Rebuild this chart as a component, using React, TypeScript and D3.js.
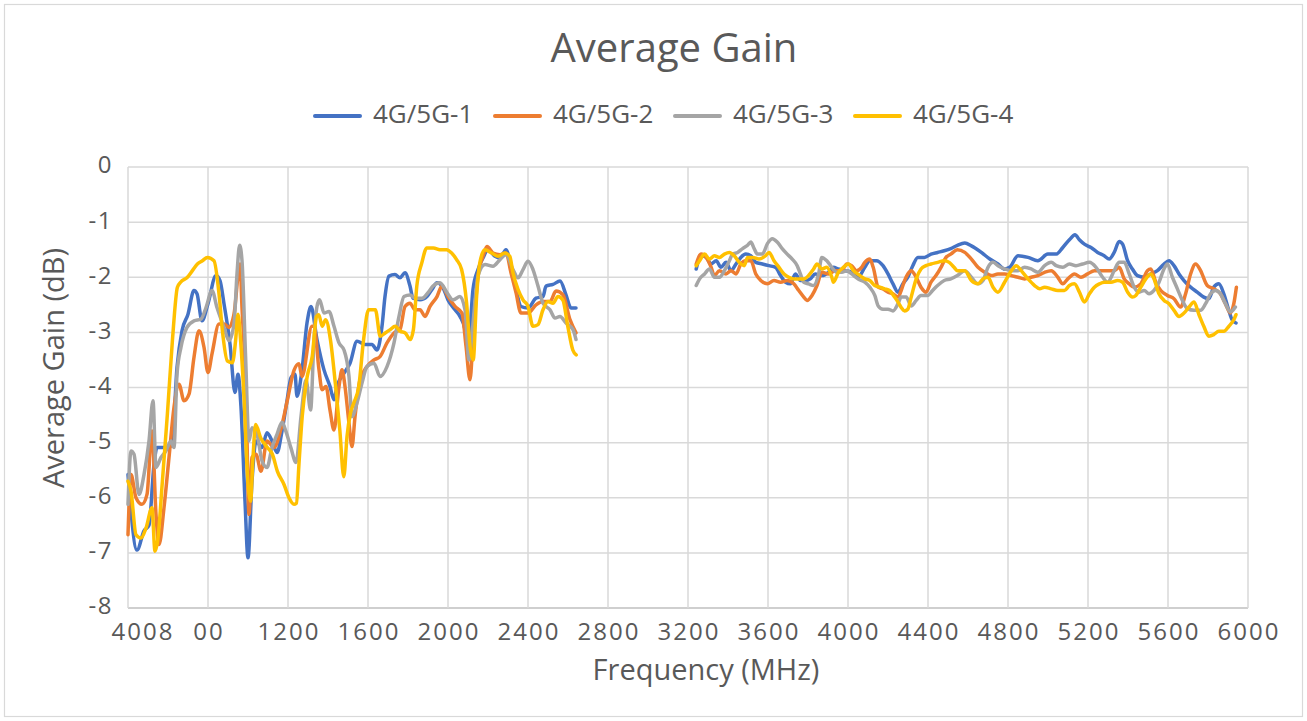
import React from "react";
import * as d3 from "d3";

const seriesNames = ["4G/5G-1", "4G/5G-2", "4G/5G-3", "4G/5G-4"];
const seriesColors = ["#4472C4", "#ED7D31", "#A5A5A5", "#FFC000"];
const yTicks = [0, -1, -2, -3, -4, -5, -6, -7, -8];
const xTicks = [400, 800, 1200, 1600, 2000, 2400, 2800, 3200, 3600, 4000, 4400, 4800, 5200, 5600, 6000];
const xTickLabels = ["4008", "00", "1200", "1600", "2000", "2400", "2800", "3200", "3600", "4000", "4400", "4800", "5200", "5600", "6000"];

type P = [number, number];

// 4G/5G-1 low band
const s1Low: P[] = [
  [400, -5.58], [445, -6.95], [480, -6.6], [505, -6.5], [530, -5.4], [545, -5.09], [600, -5.09], [620, -5.03],
  [645, -3.64], [670, -2.97], [700, -2.67], [730, -2.24], [745, -2.3], [770, -2.79], [800, -2.48], [840, -1.97],
  [860, -2.06], [880, -2.48], [910, -3.21], [935, -4.09], [950, -3.76], [965, -4.36], [985, -6.06], [1000, -7.09],
  [1020, -5.7], [1040, -4.97], [1070, -5.09], [1095, -4.82], [1120, -4.97], [1145, -5.18], [1170, -4.79],
  [1195, -4.24], [1215, -3.82], [1235, -3.76], [1245, -4.16], [1270, -3.68], [1295, -2.83], [1315, -2.53],
  [1345, -3.13], [1380, -3.68], [1410, -3.98], [1430, -4.22], [1445, -3.98], [1480, -3.74], [1510, -3.56],
  [1545, -3.16], [1585, -3.22], [1620, -3.22], [1645, -3.32], [1670, -2.89], [1685, -2.35], [1705, -1.98],
  [1735, -1.95], [1760, -2.01], [1785, -1.92], [1810, -2.16], [1825, -2.38], [1860, -2.41], [1895, -2.35],
  [1920, -2.22], [1945, -2.1], [1975, -2.19], [2000, -2.41], [2035, -2.59], [2060, -2.71], [2085, -2.95],
  [2100, -3.32], [2125, -2.22], [2150, -1.86], [2175, -1.65], [2200, -1.5], [2235, -1.62], [2260, -1.65],
  [2290, -1.5], [2315, -1.8], [2340, -2.22], [2365, -2.53], [2400, -2.56], [2440, -2.38], [2475, -2.35],
  [2490, -2.16], [2525, -2.13], [2560, -2.07], [2590, -2.32], [2615, -2.56], [2640, -2.56],
];
// 4G/5G-1 high band
const s1High: P[] = [
  [3241, -1.85], [3266, -1.61], [3291, -1.64], [3316, -1.76], [3341, -1.7], [3365, -1.82], [3390, -1.73],
  [3415, -1.88], [3440, -1.76], [3464, -1.64], [3489, -1.58], [3514, -1.61], [3539, -1.73], [3572, -1.76],
  [3605, -1.79], [3638, -1.82], [3663, -1.97], [3688, -2.09], [3712, -2.12], [3737, -1.94], [3762, -2.06],
  [3787, -2.06], [3812, -2.03], [3836, -1.94], [3869, -1.97], [3903, -1.91], [3927, -1.82], [3952, -1.85],
  [3985, -1.88], [4018, -1.91], [4051, -2.0], [4084, -1.82], [4109, -1.7], [4142, -1.7], [4175, -1.79],
  [4200, -1.94], [4225, -2.12], [4250, -2.27], [4274, -2.12], [4299, -2.0], [4324, -1.79], [4349, -1.64],
  [4382, -1.64], [4415, -1.58], [4448, -1.55], [4481, -1.52], [4514, -1.48], [4547, -1.42], [4584, -1.38],
  [4617, -1.43], [4667, -1.55], [4709, -1.67], [4750, -1.76], [4783, -1.85], [4808, -1.82], [4850, -1.61],
  [4900, -1.64], [4949, -1.7], [4999, -1.58], [5041, -1.58], [5074, -1.46], [5107, -1.32], [5135, -1.23],
  [5157, -1.32], [5182, -1.4], [5215, -1.46], [5248, -1.55], [5281, -1.61], [5306, -1.67], [5331, -1.55],
  [5356, -1.35], [5373, -1.4], [5398, -1.7], [5422, -1.85], [5447, -1.97], [5481, -2.0], [5514, -1.94],
  [5547, -1.88], [5580, -1.76], [5605, -1.7], [5630, -1.79], [5655, -1.94], [5680, -2.06], [5713, -2.18],
  [5746, -2.27], [5779, -2.36], [5804, -2.39], [5829, -2.18], [5854, -2.12], [5879, -2.3], [5904, -2.6],
  [5920, -2.77], [5940, -2.83],
];

// 4G/5G-2 low band
const s2Low: P[] = [
  [400, -6.67], [415, -5.58], [440, -6.0], [470, -6.12], [495, -5.94], [520, -4.79], [540, -6.3], [555, -6.85],
  [580, -6.18], [605, -5.27], [630, -4.36], [655, -3.94], [680, -4.24], [705, -4.12], [730, -3.45], [755, -2.97],
  [780, -3.27], [800, -3.73], [820, -3.39], [855, -2.85], [880, -2.85], [905, -2.91], [930, -2.67], [960, -1.76],
  [970, -2.55], [990, -4.06], [1005, -6.3], [1020, -5.27], [1040, -5.21], [1065, -5.52], [1095, -4.97],
  [1130, -5.09], [1165, -4.75], [1197, -4.23], [1230, -3.69], [1255, -3.57], [1270, -3.8], [1320, -2.89],
  [1330, -2.89], [1355, -3.68], [1370, -4.04], [1390, -3.98], [1410, -4.41], [1430, -4.77], [1455, -3.98],
  [1470, -3.68], [1485, -3.98], [1505, -4.65], [1520, -5.07], [1535, -4.53], [1560, -3.86], [1595, -3.62],
  [1630, -3.5], [1660, -3.44], [1695, -3.19], [1730, -3.01], [1760, -2.95], [1785, -2.53], [1810, -2.47],
  [1835, -2.59], [1860, -2.59], [1885, -2.71], [1910, -2.53], [1945, -2.35], [1970, -2.16], [2000, -2.35],
  [2035, -2.53], [2070, -2.65], [2090, -3.25], [2110, -3.86], [2125, -3.13], [2150, -1.98], [2175, -1.62],
  [2195, -1.44], [2225, -1.56], [2260, -1.59], [2290, -1.56], [2315, -1.92], [2340, -2.28], [2365, -2.65],
  [2400, -2.65], [2440, -2.5], [2475, -2.44], [2510, -2.44], [2540, -2.25], [2575, -2.32], [2610, -2.77],
  [2640, -3.01],
];
// 4G/5G-2 high band
const s2High: P[] = [
  [3241, -1.76], [3266, -1.58], [3291, -1.64], [3316, -1.82], [3332, -1.97], [3357, -1.88], [3390, -1.94],
  [3415, -1.88], [3440, -1.94], [3464, -1.76], [3489, -1.7], [3514, -1.7], [3539, -1.94], [3564, -2.06],
  [3597, -2.12], [3630, -2.06], [3663, -2.09], [3696, -2.06], [3729, -2.12], [3754, -2.24], [3779, -2.36],
  [3795, -2.42], [3820, -2.33], [3845, -2.15], [3869, -1.91], [3903, -1.94], [3936, -1.88], [3969, -1.88],
  [3994, -1.76], [4018, -1.79], [4043, -1.88], [4068, -1.82], [4084, -1.73], [4109, -1.67], [4126, -1.82],
  [4151, -2.18], [4175, -2.21], [4200, -2.27], [4225, -2.3], [4250, -2.36], [4266, -2.24], [4283, -2.06],
  [4299, -1.94], [4316, -1.88], [4341, -2.0], [4365, -2.18], [4390, -2.27], [4415, -2.09], [4440, -1.97],
  [4465, -1.82], [4490, -1.64], [4514, -1.58], [4547, -1.5], [4584, -1.55], [4617, -1.67], [4650, -1.82],
  [4684, -1.91], [4717, -1.97], [4750, -1.94], [4783, -1.94], [4817, -1.97], [4850, -2.0], [4883, -2.03],
  [4916, -2.0], [4949, -1.97], [4983, -1.91], [5016, -1.88], [5049, -2.0], [5074, -2.12], [5099, -2.03],
  [5132, -1.94], [5165, -2.0], [5198, -1.94], [5232, -1.88], [5265, -1.88], [5298, -1.88], [5331, -1.88],
  [5356, -1.82], [5381, -2.03], [5406, -2.12], [5431, -2.18], [5464, -2.12], [5497, -1.88], [5514, -1.85],
  [5539, -2.09], [5564, -2.24], [5597, -2.33], [5630, -2.39], [5663, -2.54], [5688, -2.3], [5713, -1.94],
  [5738, -1.76], [5763, -1.88], [5796, -2.15], [5829, -2.21], [5862, -2.3], [5887, -2.48], [5912, -2.65],
  [5929, -2.48], [5942, -2.18],
];

// 4G/5G-3 low band
const s3Low: P[] = [
  [400, -6.12], [415, -5.15], [430, -5.21], [455, -5.94], [480, -5.58], [505, -4.97], [525, -4.24], [540, -5.45],
  [565, -5.27], [590, -5.15], [615, -4.97], [630, -5.09], [645, -3.76], [665, -3.27], [695, -2.91], [730, -2.79],
  [765, -2.76], [790, -2.55], [820, -2.24], [845, -2.55], [880, -2.91], [905, -3.15], [930, -2.85], [945, -1.94],
  [958, -1.42], [970, -1.7], [988, -3.45], [1005, -4.97], [1020, -4.73], [1045, -4.85], [1070, -5.33],
  [1095, -5.45], [1120, -5.09], [1145, -4.85], [1170, -4.63], [1190, -4.8], [1215, -5.1], [1240, -5.36],
  [1265, -4.53], [1290, -3.86], [1313, -4.41], [1330, -3.13], [1345, -2.53], [1358, -2.41], [1380, -2.65],
  [1405, -2.62], [1430, -2.89], [1455, -3.19], [1480, -3.32], [1505, -3.8], [1520, -4.53], [1545, -4.28],
  [1570, -3.92], [1595, -3.62], [1630, -3.56], [1660, -3.8], [1695, -3.62], [1730, -3.19], [1755, -2.71],
  [1780, -2.35], [1810, -2.32], [1835, -2.38], [1870, -2.38], [1900, -2.28], [1925, -2.16], [1960, -2.1],
  [1995, -2.28], [2025, -2.41], [2060, -2.35], [2085, -2.59], [2105, -3.5], [2122, -2.95], [2150, -1.98],
  [2185, -1.77], [2225, -1.8], [2260, -1.68], [2290, -1.59], [2325, -1.86], [2350, -2.01], [2375, -1.86],
  [2400, -1.71], [2425, -1.86], [2450, -2.16], [2475, -2.47], [2510, -2.59], [2535, -2.74], [2560, -2.71],
  [2590, -2.83], [2625, -2.95], [2640, -3.13],
];
// 4G/5G-3 high band
const s3High: P[] = [
  [3241, -2.15], [3258, -2.03], [3283, -1.94], [3307, -1.85], [3332, -2.0], [3357, -2.0], [3382, -1.88],
  [3407, -1.7], [3423, -1.58], [3448, -1.55], [3473, -1.48], [3498, -1.42], [3514, -1.36], [3531, -1.48],
  [3547, -1.58], [3572, -1.58], [3597, -1.39], [3622, -1.3], [3646, -1.36], [3671, -1.48], [3696, -1.58],
  [3721, -1.67], [3746, -1.79], [3762, -1.94], [3779, -2.09], [3803, -2.12], [3828, -2.15], [3853, -1.94],
  [3869, -1.64], [3894, -1.7], [3919, -1.82], [3944, -1.91], [3969, -1.91], [3994, -1.88], [4018, -1.94],
  [4051, -2.03], [4084, -2.09], [4109, -2.18], [4134, -2.33], [4151, -2.52], [4175, -2.58], [4200, -2.58],
  [4225, -2.61], [4250, -2.48], [4266, -2.36], [4291, -2.36], [4316, -2.52], [4341, -2.42], [4365, -2.33],
  [4398, -2.33], [4423, -2.24], [4448, -2.15], [4481, -2.06], [4514, -2.03], [4547, -1.97], [4584, -1.88],
  [4617, -2.0], [4650, -2.12], [4675, -2.06], [4700, -1.82], [4725, -1.73], [4750, -1.79], [4783, -1.85],
  [4817, -1.88], [4850, -1.88], [4883, -1.82], [4916, -1.85], [4949, -1.91], [4983, -1.79], [5016, -1.73],
  [5041, -1.79], [5074, -1.82], [5107, -1.76], [5140, -1.79], [5173, -1.76], [5207, -1.73], [5240, -1.82],
  [5273, -2.0], [5298, -2.09], [5331, -1.88], [5356, -1.73], [5381, -1.73], [5406, -1.94], [5431, -2.18],
  [5456, -2.27], [5481, -2.24], [5505, -2.3], [5530, -2.24], [5555, -2.09], [5580, -1.85], [5597, -1.76],
  [5622, -2.0], [5647, -2.21], [5672, -2.42], [5697, -2.57], [5730, -2.6], [5763, -2.6], [5788, -2.48],
  [5813, -2.3], [5838, -2.24], [5862, -2.3], [5887, -2.48], [5912, -2.63], [5937, -2.54],
];

// 4G/5G-4 low band
const s4Low: P[] = [
  [400, -5.7], [415, -5.88], [440, -6.67], [465, -6.73], [490, -6.55], [520, -6.18], [535, -6.97], [548, -6.79],
  [572, -5.7], [597, -4.48], [622, -3.15], [647, -2.18], [663, -2.09], [697, -2.0], [722, -1.88], [747, -1.76],
  [772, -1.7], [797, -1.64], [830, -1.7], [855, -2.3], [872, -2.97], [897, -3.52], [922, -3.55], [938, -3.15],
  [950, -2.67], [963, -3.15], [980, -4.18], [997, -5.58], [1013, -6.06], [1025, -5.27], [1038, -4.67],
  [1063, -4.91], [1097, -5.09], [1122, -5.21], [1147, -5.52], [1180, -5.76], [1205, -6.0], [1230, -6.12],
  [1242, -6.1], [1255, -5.38], [1271, -4.53], [1296, -3.8], [1321, -3.44], [1343, -2.71], [1354, -2.68],
  [1371, -2.89], [1388, -2.77], [1412, -3.13], [1437, -3.94], [1459, -4.77], [1479, -5.62], [1495, -4.89],
  [1512, -4.47], [1529, -4.28], [1554, -3.98], [1578, -3.13], [1603, -2.59], [1637, -2.59], [1661, -3.07],
  [1686, -3.01], [1711, -2.95], [1736, -2.89], [1761, -2.98], [1786, -3.01], [1811, -3.13], [1827, -2.95],
  [1844, -2.16], [1869, -1.74], [1894, -1.47], [1927, -1.47], [1960, -1.5], [1993, -1.5], [2018, -1.56],
  [2043, -1.68], [2068, -1.86], [2093, -2.47], [2110, -3.25], [2126, -3.5], [2143, -2.35], [2159, -1.74],
  [2184, -1.5], [2218, -1.56], [2251, -1.62], [2284, -1.56], [2309, -1.62], [2325, -1.92], [2350, -2.22],
  [2375, -2.41], [2400, -2.53], [2425, -2.89], [2450, -2.86], [2475, -2.59], [2500, -2.44], [2525, -2.47],
  [2550, -2.35], [2574, -2.41], [2599, -2.89], [2624, -3.32], [2641, -3.41],
];
// 4G/5G-4 high band
const s4High: P[] = [
  [3241, -1.79], [3258, -1.7], [3283, -1.58], [3307, -1.67], [3332, -1.61], [3357, -1.64], [3382, -1.58],
  [3407, -1.55], [3431, -1.61], [3456, -1.73], [3481, -1.79], [3498, -1.64], [3522, -1.64], [3555, -1.67],
  [3588, -1.61], [3605, -1.55], [3630, -1.7], [3655, -1.82], [3680, -1.94], [3704, -2.0], [3729, -2.03],
  [3754, -2.03], [3779, -2.03], [3803, -1.97], [3828, -1.85], [3845, -1.76], [3869, -1.85], [3894, -1.82],
  [3919, -2.0], [3927, -2.09], [3952, -1.91], [3977, -1.82], [4002, -1.76], [4027, -1.88], [4060, -1.97],
  [4084, -2.03], [4109, -2.06], [4134, -2.15], [4159, -2.18], [4183, -2.21], [4208, -2.24], [4233, -2.36],
  [4250, -2.45], [4266, -2.55], [4283, -2.61], [4299, -2.58], [4316, -2.36], [4341, -2.03], [4365, -1.85],
  [4390, -1.79], [4415, -1.76], [4448, -1.73], [4481, -1.7], [4506, -1.73], [4530, -1.82], [4547, -1.88],
  [4584, -1.88], [4617, -2.06], [4650, -2.12], [4675, -2.03], [4700, -2.0], [4725, -2.18], [4750, -2.27],
  [4783, -2.09], [4817, -1.88], [4841, -1.79], [4866, -1.88], [4900, -2.03], [4933, -2.15], [4958, -2.21],
  [4983, -2.18], [5016, -2.21], [5049, -2.24], [5082, -2.24], [5107, -2.15], [5132, -2.12], [5157, -2.27],
  [5182, -2.45], [5207, -2.3], [5232, -2.18], [5257, -2.12], [5281, -2.09], [5315, -2.09], [5348, -2.06],
  [5373, -2.09], [5398, -2.27], [5422, -2.36], [5439, -2.33], [5464, -2.18], [5489, -2.03], [5514, -1.94],
  [5530, -2.03], [5555, -2.3], [5580, -2.42], [5605, -2.48], [5630, -2.6], [5655, -2.71], [5680, -2.65],
  [5705, -2.54], [5730, -2.45], [5755, -2.68], [5779, -2.89], [5804, -3.07], [5829, -3.04], [5854, -2.98],
  [5879, -2.98], [5904, -2.89], [5929, -2.77], [5940, -2.68],
];

const seriesBands: P[][][] = [
  [s1Low, s1High],
  [s2Low, s2High],
  [s3Low, s3High],
  [s4Low, s4High],
];

const W = 1307;
const H = 721;
const FONT = "'Open Sans', 'DejaVu Sans', sans-serif";
const TEXT = "#595959";
const GRID = "#d9d9d9";

export default function App() {
  const x = d3.scaleLinear().domain([400, 6000]).range([128, 1248]);
  const y = d3.scaleLinear().domain([-8, 0]).range([608, 167]);
  const line = d3
    .line<P>()
    .x((d) => x(d[0]))
    .y((d) => y(d[1]))
    .curve(d3.curveMonotoneX);

  const legendX0 = 315;
  const legendStep = 180;

  return (
    <svg
      width={W}
      height={H}
      style={{ position: "absolute", left: 0, top: 0, display: "block", background: "#fff" }}
      fontFamily={FONT}
    >
      <rect x={4.5} y={4.5} width={W - 9} height={H - 9} fill="#fff" stroke={GRID} strokeWidth={1.2} />
      <text x={674} y={51} textAnchor="middle" dominantBaseline="middle" fontSize={40} fill={TEXT}>
        Average Gain
      </text>

      {/* gridlines */}
      {yTicks.map((t) => (
        <line
          key={"gy" + t}
          x1={x(400)}
          x2={x(6000)}
          y1={y(t)}
          y2={y(t)}
          stroke={t === -8 ? "#bfbfbf" : GRID}
          strokeWidth={1.5}
        />
      ))}
      {xTicks.map((t) => (
        <line key={"gx" + t} x1={x(t)} x2={x(t)} y1={y(0)} y2={y(-8)} stroke={GRID} strokeWidth={1.5} />
      ))}

      {/* y tick labels */}
      {yTicks.map((t) => (
        <text
          key={"ty" + t}
          x={113}
          y={y(t)}
          textAnchor="end"
          dominantBaseline="middle"
          fontSize={24}
          letterSpacing={1.5}
          fill={TEXT}
        >
          {t}
        </text>
      ))}
      {/* x tick labels */}
      {xTicks.map((t, i) => (
        <text
          key={"tx" + t}
          x={x(t)}
          dx={i === 0 ? 15 : 1}
          y={634}
          textAnchor="middle"
          dominantBaseline="middle"
          fontSize={24}
          letterSpacing={2}
          fill={TEXT}
        >
          {xTickLabels[i]}
        </text>
      ))}

      <text
        transform="translate(56,368) rotate(-90)"
        textAnchor="middle"
        dominantBaseline="middle"
        fontSize={29}
        fill={TEXT}
      >
        Average Gain (dB)
      </text>
      <text x={706} y={672} textAnchor="middle" dominantBaseline="middle" fontSize={29} fill={TEXT}>
        Frequency (MHz)
      </text>

      {/* series */}
      {seriesBands.map((bands, si) =>
        bands.map((band, bi) => (
          <path
            key={`s${si}b${bi}`}
            d={line(band) || ""}
            fill="none"
            stroke={seriesColors[si]}
            strokeWidth={3.5}
            strokeLinejoin="round"
            strokeLinecap="round"
          />
        ))
      )}

      {/* legend */}
      {seriesNames.map((name, i) => {
        const lx = legendX0 + i * legendStep;
        return (
          <g key={name}>
            <line x1={lx} x2={lx + 45} y1={116} y2={116} stroke={seriesColors[i]} strokeWidth={4} strokeLinecap="round" />
            <text x={lx + 58} y={116} dominantBaseline="middle" fontSize={26} fill={TEXT}>
              {name}
            </text>
          </g>
        );
      })}
    </svg>
  );
}
